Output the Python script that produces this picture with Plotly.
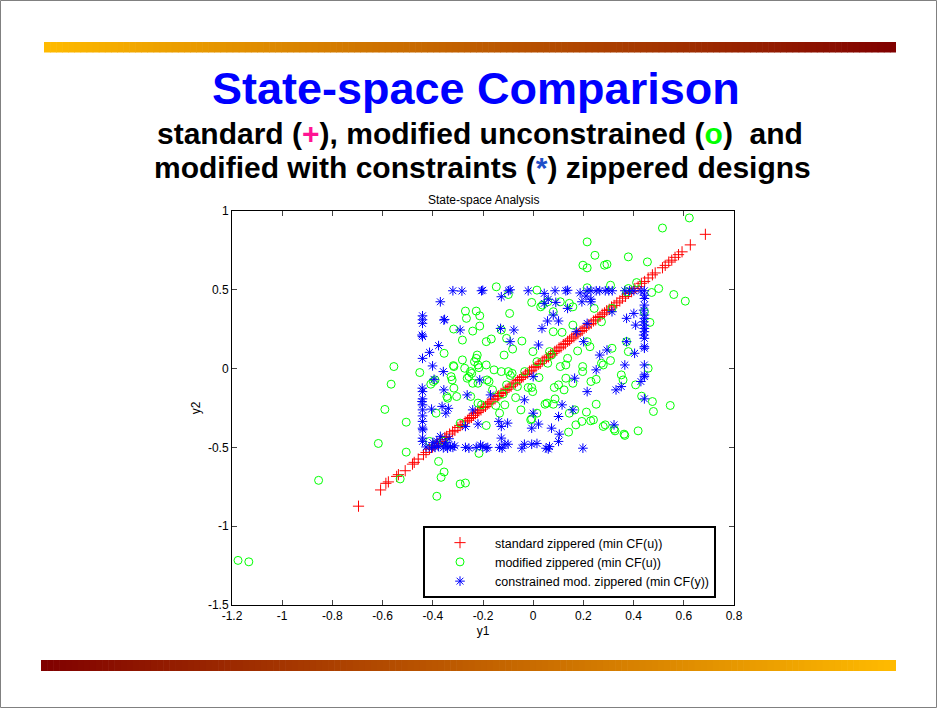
import plotly.graph_objects as go

# ---------------- data ----------------
std_x = [-0.696, -0.608, -0.587, -0.577, -0.544, -0.537, -0.510, -0.481, -0.474, -0.458, -0.437, -0.427,
         -0.413, -0.401, -0.395, -0.382, -0.371, -0.363, -0.352, -0.345, -0.333, -0.321, -0.312, -0.300,
         -0.291, -0.283, -0.271, -0.262, -0.255, -0.246, -0.238, -0.230, -0.222, -0.216, -0.208, -0.199,
         -0.190, -0.183, -0.176, -0.168, -0.160, -0.152, -0.143, -0.137, -0.128, -0.120, -0.111, -0.104,
         -0.096, -0.088, -0.080, -0.071, -0.063, -0.055, -0.047, -0.040, -0.031, -0.022, -0.015, -0.006,
         0.003, 0.011, 0.020, 0.028, 0.036, 0.044, 0.053, 0.061, 0.069, 0.078, 0.086, 0.094, 0.103, 0.111,
         0.120, 0.128, 0.137, 0.145, 0.153, 0.162, 0.170, 0.178, 0.187, 0.195, 0.203, 0.212, 0.222, 0.231,
         0.240, 0.249, 0.258, 0.266, 0.275, 0.284, 0.293, 0.303, 0.312, 0.322, 0.333, 0.345, 0.356, 0.368,
         0.380, 0.392, 0.405, 0.418, 0.431, 0.444, 0.458, 0.475, 0.486, 0.515, 0.526, 0.540, 0.552, 0.565,
         0.579, 0.593, 0.626, 0.686]
std_y = [-0.873, -0.770, -0.728, -0.719, -0.684, -0.673, -0.648, -0.606, -0.595, -0.574, -0.546, -0.532,
         -0.511, -0.498, -0.487, -0.475, -0.462, -0.450, -0.437, -0.430, -0.415, -0.401, -0.392, -0.374,
         -0.362, -0.356, -0.338, -0.328, -0.317, -0.310, -0.297, -0.286, -0.279, -0.268, -0.262, -0.247,
         -0.240, -0.226, -0.220, -0.211, -0.198, -0.192, -0.177, -0.171, -0.158, -0.151, -0.137, -0.131,
         -0.118, -0.112, -0.098, -0.091, -0.077, -0.070, -0.057, -0.052, -0.037, -0.029, -0.016, -0.010,
         0.006, 0.012, 0.027, 0.033, 0.047, 0.053, 0.068, 0.074, 0.088, 0.096, 0.109, 0.116, 0.131, 0.137,
         0.152, 0.158, 0.173, 0.180, 0.193, 0.201, 0.214, 0.221, 0.236, 0.242, 0.256, 0.263, 0.279, 0.287,
         0.302, 0.309, 0.324, 0.331, 0.345, 0.354, 0.368, 0.376, 0.391, 0.401, 0.417, 0.429, 0.447, 0.458,
         0.477, 0.488, 0.508, 0.520, 0.541, 0.553, 0.575, 0.595, 0.607, 0.640, 0.655, 0.676, 0.688, 0.706,
         0.723, 0.741, 0.785, 0.852]

mod_pts = [
    (0.622, 0.956), (0.515, 0.892), (0.215, 0.804), (0.246, 0.719), (0.379, 0.709), (0.198, 0.656),
    (0.215, 0.639), (0.284, 0.656), (0.294, 0.662), (0.455, 0.677), (0.500, 0.508), (0.560, 0.470),
    (0.606, 0.428), (0.472, 0.483), (0.412, 0.546), (0.379, 0.508), (0.372, 0.487), (0.308, 0.529),
    (0.215, 0.513), (0.015, 0.498), (-0.147, 0.519), (-0.099, 0.470), (0.243, 0.382), (0.272, 0.297),
    (0.314, 0.382), (0.443, 0.361), (0.465, 0.293), (0.158, 0.392), (0.144, 0.414), (0.080, 0.361),
    (0.037, 0.403), (0.030, 0.392), (-0.006, 0.420), (0.058, 0.424), (0.108, 0.424), (0.158, 0.276),
    (0.080, 0.234), (0.115, 0.230), (0.215, 0.171), (0.226, 0.139), (0.177, 0.112), (0.137, 0.065),
    (0.130, 0.023), (0.065, 0.108), (0.073, 0.086), (0.058, 0.034), (-0.001, 0.108), (0.015, 0.044),
    (0.108, 0.013), (0.197, 0.013), (0.197, -0.019), (0.251, -0.068), (0.230, -0.082), (0.314, 0.129),
    (0.308, 0.051), (0.272, 0.034), (0.279, 0.023), (0.379, 0.108), (0.372, 0.171), (0.351, -0.040),
    (0.358, -0.072), (0.408, -0.103), (0.458, 0.002), (0.432, -0.175), (0.475, -0.209), (0.479, -0.272),
    (0.546, -0.234), (0.418, -0.395), (0.362, -0.416), (0.365, -0.424), (0.326, -0.395), (0.322, -0.384),
    (0.287, -0.357), (0.279, -0.367), (0.251, -0.226), (0.212, -0.276), (0.240, -0.325), (0.229, -0.331),
    (0.194, -0.335), (0.170, -0.357), (0.141, -0.403), (0.166, -0.262), (0.123, -0.135), (0.101, -0.103),
    (0.084, -0.120), (0.130, -0.061), (0.158, -0.093), (0.144, -0.283), (0.087, -0.192), (0.080, -0.226),
    (0.055, -0.219), (0.047, -0.226), (0.015, -0.283), (-0.006, -0.319), (-0.010, -0.325), (0.023, -0.057),
    (-0.006, -0.120), (-0.002, -0.146), (-0.020, -0.120), (-0.034, -0.019), (-0.063, -0.114), (-0.070, -0.184),
    (-0.049, -0.262), (-0.099, -0.019), (-0.091, -0.044), (-0.084, -0.030), (-0.127, -0.019), (-0.156, -0.008),
    (-0.106, -0.103), (-0.120, -0.162), (-0.113, -0.230), (-0.149, -0.234), (-0.134, -0.283), (-0.162, -0.135),
    (-0.176, -0.082), (-0.184, -0.072), (-0.187, 0.023), (-0.216, 0.006), (-0.220, 0.023), (-0.234, 0.044),
    (-0.227, 0.065), (-0.223, 0.086), (-0.241, -0.093), (-0.220, -0.093), (-0.256, -0.051), (-0.263, -0.061),
    (-0.250, -0.019), (-0.245, -0.030), (-0.273, 0.002), (-0.282, 0.055), (-0.316, 0.013), (-0.318, 0.019),
    (-0.316, -0.124), (-0.323, -0.072), (-0.341, -0.188), (-0.344, -0.177), (-0.305, -0.177), (-0.249, -0.177),
    (-0.220, -0.219), (-0.206, -0.230), (-0.187, -0.361), (-0.216, -0.538), (-0.291, -0.346), (-0.355, 0.097),
    (-0.391, -0.072), (-0.398, -0.082), (-0.408, -0.099), (-0.452, -0.025), (-0.387, -0.283), (-0.413, -0.462),
    (-0.358, -0.462), (-0.377, -0.589), (-0.355, -0.656), (-0.367, -0.690), (-0.384, -0.810), (-0.291, -0.732),
    (-0.270, -0.726), (-0.530, -0.700), (-0.506, -0.530), (-0.617, -0.475), (-0.506, -0.340), (-0.591, -0.259),
    (-0.566, -0.099), (-0.555, 0.013), (-0.855, -0.709), (-1.176, -1.217), (-1.133, -1.226), (-0.317, 0.251),
    (-0.270, 0.365), (-0.266, 0.319), (-0.227, 0.365), (-0.213, 0.335), (-0.241, 0.238), (-0.213, 0.270),
    (-0.282, 0.181), (-0.187, 0.171), (-0.167, 0.188), (-0.127, 0.245), (-0.106, 0.192), (-0.094, 0.350),
    (-0.045, 0.175), (-0.116, 0.086), (-0.082, 0.124), (-0.327, -0.051),
]
mod_x = [p[0] for p in mod_pts]
mod_y = [p[1] for p in mod_pts]

con_pts = [
    # left edge
    (-0.441, 0.335), (-0.441, 0.310), (-0.441, 0.287), (-0.443, 0.213), (-0.441, 0.203), (-0.441, 0.065),
    (-0.442, -0.124), (-0.441, -0.146), (-0.441, -0.192), (-0.443, -0.209), (-0.441, -0.262), (-0.441, -0.335),
    (-0.441, -0.378), (-0.440, -0.388), (-0.441, -0.441), (-0.441, -0.462), (-0.441, -0.230), (-0.441, -0.300),
    # bottom edge
    (-0.427, -0.497), (-0.405, -0.505), (-0.391, -0.500), (-0.377, -0.495), (-0.358, -0.503), (-0.348, -0.490),
    (-0.341, -0.505), (-0.330, -0.495), (-0.320, -0.500), (-0.313, -0.490), (-0.270, -0.500), (-0.256, -0.505),
    (-0.227, -0.500), (-0.201, -0.495), (-0.187, -0.505), (-0.181, -0.500), (-0.134, -0.500), (-0.124, -0.505),
    (-0.113, -0.480), (-0.045, -0.505), (-0.035, -0.480), (-0.006, -0.480), (0.015, -0.475), (0.051, -0.505),
    (0.065, -0.495), (0.198, -0.505), (-0.210, -0.485), (-0.100, -0.480), (0.060, -0.510),
    (-0.384, -0.460), (-0.350, -0.470), (-0.370, -0.430), (-0.400, -0.470), (-0.335, -0.445),
    # top edge
    (-0.320, 0.494), (-0.284, 0.492), (-0.206, 0.494), (-0.201, 0.497), (-0.099, 0.494), (-0.092, 0.500),
    (-0.127, 0.456), (-0.020, 0.494), (0.044, 0.477), (0.087, 0.494), (0.130, 0.494), (0.137, 0.497),
    (0.187, 0.480), (0.215, 0.494), (0.230, 0.494), (0.251, 0.494), (0.265, 0.494), (0.287, 0.494),
    (0.301, 0.494), (0.315, 0.494), (0.365, 0.494), (0.384, 0.494), (0.401, 0.494), (0.429, 0.494),
    (0.443, 0.494), (0.210, 0.460), (0.230, 0.440), (0.090, 0.420), (0.060, 0.440),
    # right edge
    (0.443, 0.466), (0.443, 0.445), (0.443, 0.403), (0.440, 0.371), (0.443, 0.340), (0.443, 0.319),
    (0.440, 0.297), (0.443, 0.276), (0.443, 0.255), (0.443, 0.234), (0.440, 0.213), (0.443, 0.192),
    (0.443, 0.139), (0.443, 0.129), (0.443, 0.023), (0.443, -0.040), (0.443, -0.051), (0.443, -0.192),
    # interior
    (-0.370, 0.424), (-0.356, 0.308), (-0.353, 0.312), (-0.377, 0.146), (-0.413, 0.103), (-0.401, 0.017),
    (-0.395, -0.068), (-0.358, -0.019), (-0.356, -0.135), (-0.405, -0.257), (-0.363, -0.240), (-0.348, -0.283),
    (-0.338, -0.252), (-0.291, 0.245), (-0.263, -0.167), (-0.241, -0.262), (-0.270, -0.367), (-0.220, -0.352),
    (-0.213, -0.072), (-0.170, -0.167), (-0.137, -0.335), (-0.127, -0.367), (-0.102, -0.346), (-0.130, 0.255),
    (-0.077, 0.245), (-0.092, 0.171), (-0.127, -0.441), (-0.035, -0.198), (0.000, -0.283), (0.000, -0.051),
    (-0.006, -0.378), (0.021, -0.352), (0.021, 0.150), (0.035, 0.255), (0.057, 0.302), (0.080, 0.340),
    (0.101, 0.302), (0.073, -0.378), (0.101, -0.304), (0.115, -0.230), (0.104, -0.416), (0.101, -0.462),
    (0.158, -0.262), (0.165, -0.061), (0.172, 0.234), (0.201, 0.171), (0.215, -0.146), (0.215, 0.287),
    (0.251, -0.008), (0.265, 0.086), (0.294, 0.118), (0.322, -0.357), (0.330, -0.135), (0.351, -0.114),
    (0.365, 0.023), (0.372, 0.171), (0.372, 0.319), (0.401, 0.350), (0.404, 0.097), (0.408, 0.276),
    (0.429, -0.082), (0.194, 0.424), (0.230, 0.424), (0.137, 0.382), (0.314, 0.361), (0.044, 0.414),
]
con_x = [p[0] for p in con_pts]
con_y = [p[1] for p in con_pts]

x_ticks = [-1.2, -1.0, -0.8, -0.6, -0.4, -0.2, 0.0, 0.2, 0.4, 0.6, 0.8]
x_tick_labels = ["-1.2", "-1", "-0.8", "-0.6", "-0.4", "-0.2", "0", "0.2", "0.4", "0.6", "0.8"]
y_ticks = [-1.5, -1.0, -0.5, 0.0, 0.5, 1.0]
y_tick_labels = ["-1.5", "-1", "-0.5", "0", "0.5", "1"]

series_names = ["standard zippered (min CF(u))",
                "modified zippered (min CF(u))",
                "constrained mod. zippered (min CF(y))"]

# ---------------- layout helpers ----------------
W, H = 938, 709
L, R, T, B = 232, 734, 211, 605
FONT = "Liberation Sans, Arial, sans-serif"


def px(xp):
    return (xp - L) / (R - L)


def py(yp):
    return (B - yp) / (B - T)


fig = go.Figure()
fig.add_trace(go.Scatter(x=std_x, y=std_y, mode="markers", name=series_names[0],
                         marker=dict(symbol="cross-thin-open", size=8, color="#ff0000",
                                     line=dict(color="#ff0000", width=1))))
fig.add_trace(go.Scatter(x=mod_x, y=mod_y, mode="markers", name=series_names[1],
                         marker=dict(symbol="circle-open", size=8, color="#00ff00",
                                     line=dict(color="#00ff00", width=1))))
fig.add_trace(go.Scatter(x=con_x, y=con_y, mode="markers", name=series_names[2],
                         marker=dict(symbol="asterisk-open", size=8, color="#0000ff",
                                     line=dict(color="#0000ff", width=1))))

shapes = []


def grad_bar(x0, x1, y0, y1, c_left, c_right, n=140):
    for i in range(n):
        t = (i + 0.5) / n
        c = tuple(int(round(c_left[k] + (c_right[k] - c_left[k]) * t)) for k in range(3))
        xa = x0 + (x1 - x0) * i / n
        xb = x0 + (x1 - x0) * (i + 1) / n + 0.6
        shapes.append(dict(type="rect", xref="paper", yref="paper",
                           x0=px(xa), x1=px(min(xb, x1)), y0=py(y1), y1=py(y0),
                           fillcolor="rgb(%d,%d,%d)" % c, line=dict(width=0), layer="below"))


gold = (255, 187, 0)
dark = (128, 0, 0)
grad_bar(44, 896, 42, 52.5, gold, dark)
grad_bar(41, 896, 660, 671, dark, gold)

# page frame
shapes.append(dict(type="rect", xref="paper", yref="paper",
                   x0=px(0.5), x1=px(W - 1.5), y0=py(H - 1.5), y1=py(0.5),
                   line=dict(color="#808080", width=1), fillcolor="rgba(0,0,0,0)"))

annotations = [
    dict(text="<b>State-space Comparison</b>", x=px(476), y=py(88), xref="paper", yref="paper",
         showarrow=False, font=dict(family=FONT, size=45, color="#0000ff"), xanchor="center", yanchor="middle"),
    dict(text="<b>standard (<span style='color:#ff1493'>+</span>), modified unconstrained "
              "(<span style='color:#00ff00'>o</span>)  and</b>",
         x=px(480), y=py(133), xref="paper", yref="paper", showarrow=False,
         font=dict(family=FONT, size=30, color="#000000"), xanchor="center", yanchor="middle"),
    dict(text="<b>modified with constraints (<span style='color:#1f4fc8'>*</span>) zippered designs</b>",
         x=px(482), y=py(167), xref="paper", yref="paper", showarrow=False,
         font=dict(family=FONT, size=30, color="#000000"), xanchor="center", yanchor="middle"),
    dict(text="State-space Analysis", x=px(483), y=py(200), xref="paper", yref="paper", showarrow=False,
         font=dict(family=FONT, size=12, color="#000000"), xanchor="center", yanchor="middle"),
]

axis_common = dict(showgrid=False, zeroline=False, showline=True, linecolor="#000000", linewidth=1,
                   mirror="ticks", ticks="inside", ticklen=5, tickcolor="#444444",
                   tickfont=dict(family=FONT, size=12, color="#000000"))

fig.update_layout(
    width=W, height=H, autosize=False,
    margin=dict(l=L, r=W - R, t=T, b=H - B, pad=0),
    paper_bgcolor="#ffffff", plot_bgcolor="#ffffff",
    font=dict(family=FONT, size=12, color="#000000"),
    xaxis=dict(range=[-1.2, 0.8], tickmode="array", tickvals=x_ticks, ticktext=x_tick_labels,
               title=dict(text="y1", font=dict(family=FONT, size=12), standoff=4), **axis_common),
    yaxis=dict(range=[-1.5, 1.0], tickmode="array", tickvals=y_ticks, ticktext=y_tick_labels,
               title=dict(text="y2", font=dict(family=FONT, size=12), standoff=4), **axis_common),
    showlegend=True,
    legend=dict(x=px(423), y=py(598), xanchor="left", yanchor="bottom",
                bgcolor="#ffffff", bordercolor="#000000", borderwidth=2,
                font=dict(family=FONT, size=12.5, color="#000000"), itemwidth=60,
                tracegroupgap=0),
    shapes=shapes,
    annotations=annotations,
)

fig.write_html("out.html")
